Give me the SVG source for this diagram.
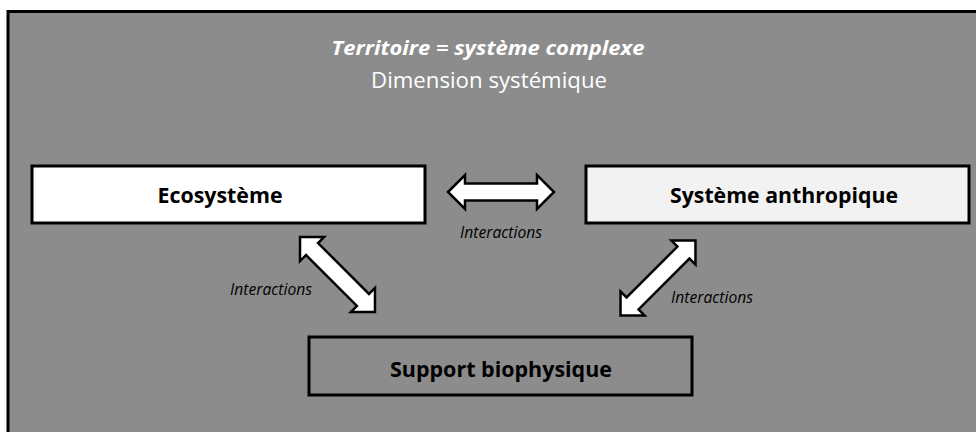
<svg xmlns="http://www.w3.org/2000/svg" width="976" height="432" viewBox="0 0 976 432">
<defs>
<style>
.frame{fill:#8c8c8c;stroke:#000;stroke-width:3}
.box{stroke:#000;stroke-width:3}
.arrow{fill:#fff;stroke:#000;stroke-width:2.5;stroke-linejoin:miter}
text{font-family:"Open Sans","Liberation Sans",sans-serif;text-anchor:middle}
.lbl{font-size:22px;font-weight:bold;fill:#000}
.ital{font-size:16.5px;font-style:italic;fill:#000}
.title{font-size:20px;font-weight:bold;font-style:italic;fill:#fff}
.sub{font-size:22px;fill:#fff}
</style>
<path id="dbl" d="M -53 0 L -36 -17 L -36 -8.5 L 36 -8.5 L 36 -17 L 53 0 L 36 17 L 36 8.5 L -36 8.5 L -36 17 Z"/>
</defs>
<rect x="0" y="0" width="976" height="432" fill="#fff"/>
<rect class="frame" x="8" y="11.5" width="980" height="440"/>
<g id="titles">
<text class="title" x="488" y="55" textLength="313" lengthAdjust="spacingAndGlyphs">Territoire = système complexe</text>
<text class="sub" x="489" y="88" textLength="236" lengthAdjust="spacingAndGlyphs">Dimension systémique</text>
</g>
<g id="ecosysteme">
<rect class="box" x="32" y="166" width="393" height="57" fill="#fff"/>
<text class="lbl" x="220" y="203" textLength="125" lengthAdjust="spacingAndGlyphs">Ecosystème</text>
</g>
<g id="systeme-anthropique">
<rect class="box" x="586" y="166" width="383" height="57" fill="#f2f2f2"/>
<text class="lbl" x="784" y="203" textLength="228" lengthAdjust="spacingAndGlyphs">Système anthropique</text>
</g>
<g id="support-biophysique">
<rect class="box" x="309" y="337" width="383" height="58" fill="#8c8c8c"/>
<text class="lbl" x="501" y="377" textLength="222" lengthAdjust="spacingAndGlyphs">Support biophysique</text>
</g>
<g id="connectors">
<use href="#dbl" class="arrow" transform="translate(501,192)"/>
<use href="#dbl" class="arrow" transform="translate(337.5,274.5) rotate(45)"/>
<use href="#dbl" class="arrow" transform="translate(658,278) rotate(-45)"/>
<text class="ital" x="501" y="238" textLength="82" lengthAdjust="spacingAndGlyphs">Interactions</text>
<text class="ital" x="271" y="295" textLength="82" lengthAdjust="spacingAndGlyphs">Interactions</text>
<text class="ital" x="712" y="303" textLength="82" lengthAdjust="spacingAndGlyphs">Interactions</text>
</g>
</svg>
